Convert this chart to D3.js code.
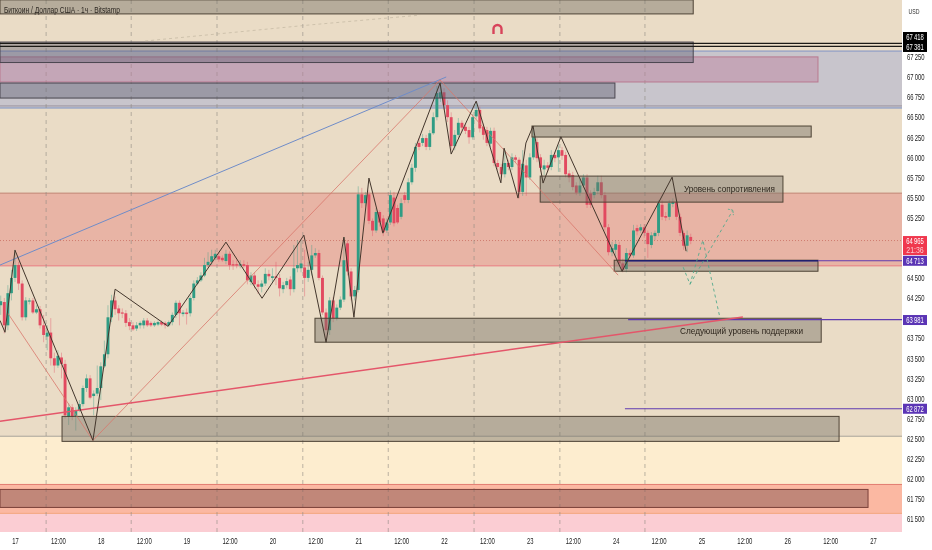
<!DOCTYPE html>
<html>
<head>
<meta charset="utf-8">
<script src="https://cdn.jsdelivr.net/npm/d3@7"></script>
<style>
    html, body { margin: 0; padding: 0; background: #fff; overflow: hidden; }
    text { font-family: "Liberation Sans", sans-serif; }
    svg { filter: blur(0.3px); }
    .axis text { font-size: 8.5px; fill: #222; }
    .axis .domain { display: none; }
</style>
</head>
<body>
<div id="chart"></div>
<script>
// hourly candles, hour 0 = midnight of the 17th, first bar at firstBarHour
const firstBarHour = -4;
const candleOpen = [
    64160,64200,63910,64310,64500,64660,64430,64010,64210,64220,
    64070,64110,63910,63770,63820,63500,63410,63510,63430,62770,
    62890,62780,62850,62930,63130,63250,63030,63060,63130,63400,
    63550,64010,64220,64120,64070,64060,63950,63910,63870,63910,
    63910,63970,63940,63910,63920,63950,63940,63910,63950,64040,
    64190,64050,64070,64060,64250,64430,64470,64530,64660,64700,
    64750,64770,64750,64710,64800,64670,64670,64660,64670,64660,
    64450,64530,64420,64390,64430,64550,64500,64520,64500,64360,
    64410,64480,64360,64620,64620,64630,64500,64600,64780,64810,
    64500,64070,63850,64220,64000,64130,64230,64930,64580,64270,
    64350,65540,65430,65540,65210,65090,65320,65240,65090,65190,
    65500,65370,65260,65530,65470,65690,65870,66180,66180,66240,
    66130,66300,66500,66740,66810,66650,66500,66140,66280,66430,
    66380,66340,66250,66510,66590,66380,66340,66170,66330,65930,
    65880,65790,65930,65880,66000,65970,65570,65900,65750,66000,
    66190,66000,65850,65900,65880,66030,66000,66090,66030,65800,
    65780,65650,65560,65650,65750,65550,65530,65580,65690,65530,
    65130,64820,64850,64910,64680,64610,64810,64780,65120,65090,
    65130,65060,64910,65020,65060,65410,65270,65260,65420,65440,
    65260,65060,64900,65010
];
const candleClose = [
    64210,63910,64310,64500,64660,64430,64010,64220,64220,64070,
    64110,63910,63790,63820,63500,63410,63530,63430,62790,62890,
    62770,62850,62930,63130,63250,63010,63060,63130,63400,63550,
    64010,64220,64110,64060,64060,63940,63900,63860,63910,63940,
    63970,63910,63910,63940,63950,63920,63910,63950,64040,64190,
    64060,64070,64050,64250,64430,64470,64530,64660,64700,64770,
    64800,64730,64720,64800,64660,64660,64660,64670,64650,64470,
    64530,64420,64390,64430,64550,64520,64520,64500,64370,64410,
    64460,64360,64620,64660,64680,64500,64600,64780,64810,64500,
    64070,63850,64220,64000,64130,64230,64720,64580,64270,64350,
    65540,65430,65530,65210,65090,65320,65190,65070,65190,65530,
    65180,65190,65430,65470,65690,65870,66130,66130,66240,66130,
    66300,66500,66800,66810,66650,66500,66140,66280,66430,66370,
    66330,66250,66500,66590,66360,66280,66180,66330,65930,65880,
    65790,65930,65880,66000,65970,65570,65920,65750,66000,66250,
    65990,65870,65900,65870,66030,65990,66090,66020,65790,65750,
    65630,65560,65650,65750,65410,65410,65570,65690,65530,65130,
    64820,64870,64920,64680,64600,64810,64780,65090,65080,65130,
    65060,64920,65030,65060,65430,65260,65250,65430,65440,65260,
    65060,64900,65030,64960
];
const candleHigh = [
    64280,64250,64410,64600,64850,64700,64470,64260,64250,64250,
    64160,64150,64040,63910,64000,63570,63600,63570,63480,62940,
    62930,62890,62980,63160,63300,63290,63100,63410,63450,63720,
    64160,64290,64270,64160,64120,64100,64000,63950,63950,63960,
    64000,64000,63960,63960,63970,63970,63960,63970,64070,64220,
    64220,64100,64120,64280,64470,64510,64570,64750,64820,64850,
    64850,64820,64780,64850,64830,64720,64720,64720,64720,64700,
    64570,64570,64470,64470,64620,64600,64620,64700,64550,64450,
    64500,64520,64910,64970,64970,64850,64700,64910,64870,64850,
    64530,64120,64260,64260,64170,64270,65010,64970,64620,64400,
    65640,65620,65570,65590,65240,65370,65340,65280,65240,65590,
    65570,65410,65490,65570,65740,65920,66180,66240,66290,66280,
    66340,66560,66890,66960,66860,66710,66560,66340,66490,66460,
    66420,66380,66540,66680,66630,66420,66380,66370,66370,65970,
    65920,66090,65970,66050,66030,66000,66090,65970,66050,66340,
    66240,66040,65970,65940,66090,66070,66150,66130,66070,65840,
    65820,65690,65740,65790,65790,65590,65620,65770,65770,65570,
    65170,64950,64970,64950,64740,64870,64850,65160,65160,65170,
    65170,65090,65070,65090,65470,65470,65320,65470,65490,65480,
    65300,65090,65090,65050
];
const candleLow = [
    64040,63810,63850,64220,64450,64350,63970,63970,64170,64050,
    64050,63870,63700,63600,63410,63320,63380,63250,62750,62670,
    62730,62600,62830,62900,63080,62990,62790,63030,62980,63380,
    63500,63950,64040,63970,64000,63890,63850,63840,63840,63870,
    63870,63890,63890,63890,63900,63900,63870,63890,63910,64000,
    63910,64020,63920,64020,64220,64410,64450,64510,64630,64660,
    64720,64700,64700,64670,64600,64600,64620,64620,64620,64420,
    64410,64370,64300,64320,64400,64470,64450,64410,64270,64310,
    64370,64280,64320,64570,64570,64270,64450,64530,64750,64470,
    64040,63720,63790,63950,63970,64100,64200,64530,64220,64220,
    64320,65370,65390,65170,65020,65060,65140,65020,65060,65160,
    65140,65170,65230,65430,65430,65660,65820,66090,66140,66090,
    66090,66280,66460,66690,66590,66440,66090,66090,66240,66320,
    66290,66170,66220,66480,66310,66220,66140,66130,65890,65840,
    65740,65750,65840,65840,65930,65490,65520,65520,65720,65970,
    65940,65820,65780,65820,65840,65940,65820,65970,65750,65690,
    65590,65530,65520,65620,65370,65370,65490,65540,65490,65090,
    64780,64770,64770,64650,64570,64570,64750,64750,65030,65060,
    65000,64750,64870,64970,65020,65220,65210,65220,65380,65220,
    65020,64850,64820,64920
];

const priceTicks = [67250,67000,66750,66500,66250,66000,65750,65500,65250,64500,64250,63750,63500,63250,63000,62750,62500,62250,62000,61750,61500];
const timeTicks = [0,12,24,36,48,60,72,84,96,108,120,132,144,156,168,180,192,204,216,228,240];
const timeLabels = ["17","12:00","18","12:00","19","12:00","20","12:00","21","12:00","22","12:00","23","12:00","24","12:00","25","12:00","26","12:00","27"];
const gridHours = [8.7,32.5,56.5,80.5,104.4,128.4,152.4,176.2];

// zigzag and trend lines, [hour, price]
const zigzag = [[-4.2,63970],[-2.8,63824],[0,64845],[21.8,62478],[28,64360],[42.8,63898],[59,64945],[69.1,64247],[80.8,65032],[87,63700],[92,65007],[94.8,64010],[99,65742],[102.9,65057],[118.9,66925],[122,66041],[129,66700],[135.9,65683],[136.8,66115],[140.7,65493],[142.9,66178],[144.9,66390],[147.7,65680],[152.7,66256],[169.8,64583],[183.8,65754],[187.7,64833]];
const thinRed = [[-2,64060],[21.8,62478],[118.9,66963],[168.7,64534]];
const blueTrend = [[-4.2,64660],[120.6,67000]];
const redTrend = [[-4.2,62715],[203.6,64015]];
const fadedTrend = [[36.4,67448],[82.5,67648],[113.3,67770]];
const forecastA = [[186.9,64633],[188.8,64421],[192.4,64970],[197.2,64000]];
const forecastB = [[188.8,64421],[200.8,65343]];

// background bands, price from / to / colour
const bandTop = [67323,65555,64650,62530,61930,61570];
const bandBottom = [66614,64650,62530,61930,61570,61300];
const bandFill = ["#c8c5cc","#e8b4a5","#eadcc6","#fdedcf","#fbb8a2","#fbcdd3"];

// boxes: hour start, hour end, price top, price bottom
const tanBoxes = [
    [-4.2,189.7,67960,67785],
    [144.6,222.7,66390,66253],
    [146.9,214.8,65767,65443],
    [167.6,224.6,64720,64583],
    [83.9,225.5,63998,63700],
    [13.15,230.5,62777,62466]
];
const greyBoxes = [
    [-4.2,189.7,67435,67180],
    [-4.2,167.8,66925,66738]
];
const pinkBox = [-4.2,224.6,67250,66938];
const redBox = [-4.2,238.6,61868,61644];

const levelStart = [170.6,171.5,170.6];
const levelPrice = [64713,63981,62872];
const blackLevels = [67418,67381];

const notes = ["Уровень сопротивления","Следующий уровень поддержки"];
const noteHour = [187.1,186];
const notePrice = [65570,63800];
const noteWidth = [91,123];

const tagPrice = [67418,67381,64713,63981,62872];
const tagFill = ["#000","#000","#5b35b5","#5b35b5","#5b35b5"];
const tagShift = [-11.4,-4.4,-5,-4.6,-5];

const width = 932, height = 550;
const plotW = 902, plotH = 532;

const x = d3.scaleLinear().domain([-4.2,248.1]).range([0,plotW]);
const y = d3.scaleLinear().domain([67000,61500]).range([77,519]);
const fmt = v => String(v).slice(0,2) + "\u2009" + String(v).slice(2);

const svg = d3.select("#chart").append("svg")
    .attr("width", width)
    .attr("height", height)
    .style("display", "block");

const plot = svg.append("g");
plot.append("rect").attr("width", plotW).attr("height", plotH).attr("fill", "#eadcc6");

// bands
bandTop.forEach((t, i) => {
    plot.append("rect")
        .attr("x", 0).attr("width", plotW)
        .attr("y", y(t))
        .attr("height", Math.min(plotH, y(bandBottom[i])) - y(t))
        .attr("fill", bandFill[i]);
});
function hline(price, color, w, x0, dash) {
    const l = plot.append("line")
        .attr("x1", x0 === undefined ? 0 : x(x0)).attr("x2", plotW)
        .attr("y1", y(price)).attr("y2", y(price))
        .attr("stroke", color).attr("stroke-width", w);
    if (dash) l.attr("stroke-dasharray", dash);
}
hline(67323, "#7f93c6", 1);
hline(66614, "#7f93c6", 1);
hline(66640, "#9a94a0", 1);
hline(65555, "#c08573", 1);
hline(64650, "#ea7b80", 1);
hline(62530, "#a8a49a", 1);
hline(61930, "#e27c70", 1);
hline(61570, "#f4a67e", 1);
hline(64965, "#cf7c70", 1, undefined, "1 2");

// grid
plot.selectAll(".grid").data(gridHours).enter().append("line")
    .attr("class", "grid")
    .attr("x1", d => x(d)).attr("x2", d => x(d))
    .attr("y1", 0).attr("y2", plotH)
    .attr("stroke", "#8f8a82").attr("stroke-width", 0.8)
    .attr("stroke-opacity", 0.75)
    .attr("stroke-dasharray", "4 4");

// candles
const candles = candleOpen.map((o, i) => ({
    hour: firstBarHour + i, o: o, c: candleClose[i], h: candleHigh[i], l: candleLow[i]
}));
const upColor = "#2f9c84", downColor = "#e24a60";
const candleG = plot.append("g");
candleG.selectAll(".wick").data(candles).enter().append("line")
    .attr("class", "wick")
    .attr("x1", d => x(d.hour)).attr("x2", d => x(d.hour))
    .attr("y1", d => y(d.h)).attr("y2", d => y(d.l))
    .attr("stroke", d => d.c >= d.o ? upColor : downColor)
    .attr("stroke-width", 0.7)
    .attr("stroke-opacity", 0.55);
candleG.selectAll(".body").data(candles).enter().append("rect")
    .attr("class", "body")
    .attr("x", d => x(d.hour) - 1.45)
    .attr("width", 2.9)
    .attr("y", d => y(Math.max(d.o, d.c)))
    .attr("height", d => Math.max(1.2, Math.abs(y(d.o) - y(d.c))))
    .attr("fill", d => d.c >= d.o ? upColor : downColor);

// boxes
function box(b, fill, stroke, w) {
    plot.append("rect")
        .attr("x", x(b[0])).attr("width", x(b[1]) - x(b[0]))
        .attr("y", y(b[2])).attr("height", y(b[3]) - y(b[2]))
        .attr("fill", fill).attr("stroke", stroke).attr("stroke-width", w);
}
box(pinkBox, "rgba(190,125,155,0.42)", "#b9798f", 1);
tanBoxes.forEach(b => box(b, "rgba(119,115,104,0.46)", "#4e4335", 1));
greyBoxes.forEach(b => box(b, "rgba(95,95,115,0.42)", "#4a4650", 1));
box(redBox, "rgba(135,85,80,0.5)", "#7a4038", 1);

// horizontal levels
blackLevels.forEach(p => hline(p, "#1c1a16", 1.3));
levelPrice.forEach((p, i) => hline(p, "#5f3bb0", 1.1, levelStart[i]));
plot.append("line")
    .attr("x1", x(170.6)).attr("x2", x(224.6))
    .attr("y1", y(64713)).attr("y2", y(64713))
    .attr("stroke", "#20206e").attr("stroke-width", 1.5);

// lines
const line = d3.line().x(d => x(d[0])).y(d => y(d[1]));
function path(data, color, w, dash, op) {
    const p = plot.append("path")
        .attr("d", line(data))
        .attr("fill", "none")
        .attr("stroke", color)
        .attr("stroke-width", w);
    if (dash) p.attr("stroke-dasharray", dash);
    if (op) p.attr("stroke-opacity", op);
}
path(fadedTrend, "#b8ac96", 0.8, "3 3", 0.7);
path(blueTrend, "#6f8cc8", 1);
path(thinRed, "#d9776c", 0.8);
path(redTrend, "#e4566a", 1.5);
path(zigzag, "#43362c", 1);
path(forecastA, "#52a98c", 0.9, "3 3");
path(forecastB, "#52a98c", 0.9, "3 3");

// arrow tip of the forecast
plot.append("path")
    .attr("d", d3.line()([[x(200.8) - 5, y(65343) - 1], [x(200.8), y(65343)], [x(200.8) + 0.5, y(65343) + 5]]))
    .attr("fill", "none").attr("stroke", "#52a98c").attr("stroke-width", 0.8)
    .attr("stroke-dasharray", "2 1");

// notes
notes.forEach((t, i) => {
    plot.append("text")
        .attr("x", x(noteHour[i]))
        .attr("y", y(notePrice[i]))
        .attr("font-size", 9.6)
        .attr("fill", "#2e261d")
        .attr("textLength", noteWidth[i])
        .attr("lengthAdjust", "spacingAndGlyphs")
        .text(t);
});

// title
plot.append("text")
    .attr("x", 4).attr("y", 13)
    .attr("font-size", 8.5)
    .attr("fill", "#2b2620")
    .attr("textLength", 116)
    .attr("lengthAdjust", "spacingAndGlyphs")
    .text("Биткоин / Доллар США · 1ч · Bitstamp");

// magnet
const arc = d3.path();
arc.moveTo(493.5, 34);
arc.lineTo(493.5, 29);
arc.arc(497.5, 29, 4, Math.PI, 0);
arc.lineTo(501.5, 34);
plot.append("path").attr("d", arc.toString())
    .attr("fill", "none").attr("stroke", "#d8435a").attr("stroke-width", 2.4);

// axes
svg.append("rect").attr("x", plotW).attr("width", width - plotW).attr("height", height).attr("fill", "#fff");
svg.append("rect").attr("y", plotH).attr("width", width).attr("height", height - plotH).attr("fill", "#fff");

svg.append("g")
    .attr("class", "axis")
    .attr("transform", `translate(${plotW},0)`)
    .call(d3.axisRight(y).tickValues(priceTicks).tickSize(0).tickPadding(5).tickFormat(fmt))
    .selectAll("text")
    .attr("textLength", 17.5)
    .attr("lengthAdjust", "spacingAndGlyphs");

svg.append("g")
    .attr("class", "axis")
    .attr("transform", `translate(0,${plotH})`)
    .call(d3.axisBottom(x).tickValues(timeTicks).tickSize(0).tickPadding(6).tickFormat((d, i) => timeLabels[i]))
    .selectAll("text")
    .attr("textLength", (d, i) => timeLabels[i].length > 2 ? 15 : 6.5)
    .attr("lengthAdjust", "spacingAndGlyphs");

svg.append("text").attr("x", 914).attr("y", 14)
    .attr("text-anchor", "middle")
    .attr("font-size", 7.5)
    .attr("textLength", 11)
    .attr("lengthAdjust", "spacingAndGlyphs")
    .attr("fill", "#333").text("USD");

// price tags
const tags = svg.append("g");
function tagText(px, py, str, color) {
    tags.append("text")
        .attr("x", px).attr("y", py)
        .attr("text-anchor", "middle")
        .attr("font-size", 8.5)
        .attr("textLength", 17.5)
        .attr("lengthAdjust", "spacingAndGlyphs")
        .attr("fill", color)
        .text(str);
}
tagPrice.forEach((p, i) => {
    const tagY = y(p) + tagShift[i];
    tags.append("rect")
        .attr("x", plotW + 1).attr("y", tagY)
        .attr("width", 24).attr("height", 10)
        .attr("fill", tagFill[i]);
    tagText(plotW + 13, tagY + 8, fmt(p), "#fff");
});
// last price tag with countdown
tags.append("rect")
    .attr("x", plotW + 1).attr("y", y(64965) - 4.5)
    .attr("width", 24).attr("height", 19)
    .attr("fill", "#f0384e");
tagText(plotW + 13, y(64965) + 3.2, fmt(64965), "#fff");
tagText(plotW + 13, y(64965) + 12.4, "21:36", "#fbc9cf");
</script>
</body>
</html>
